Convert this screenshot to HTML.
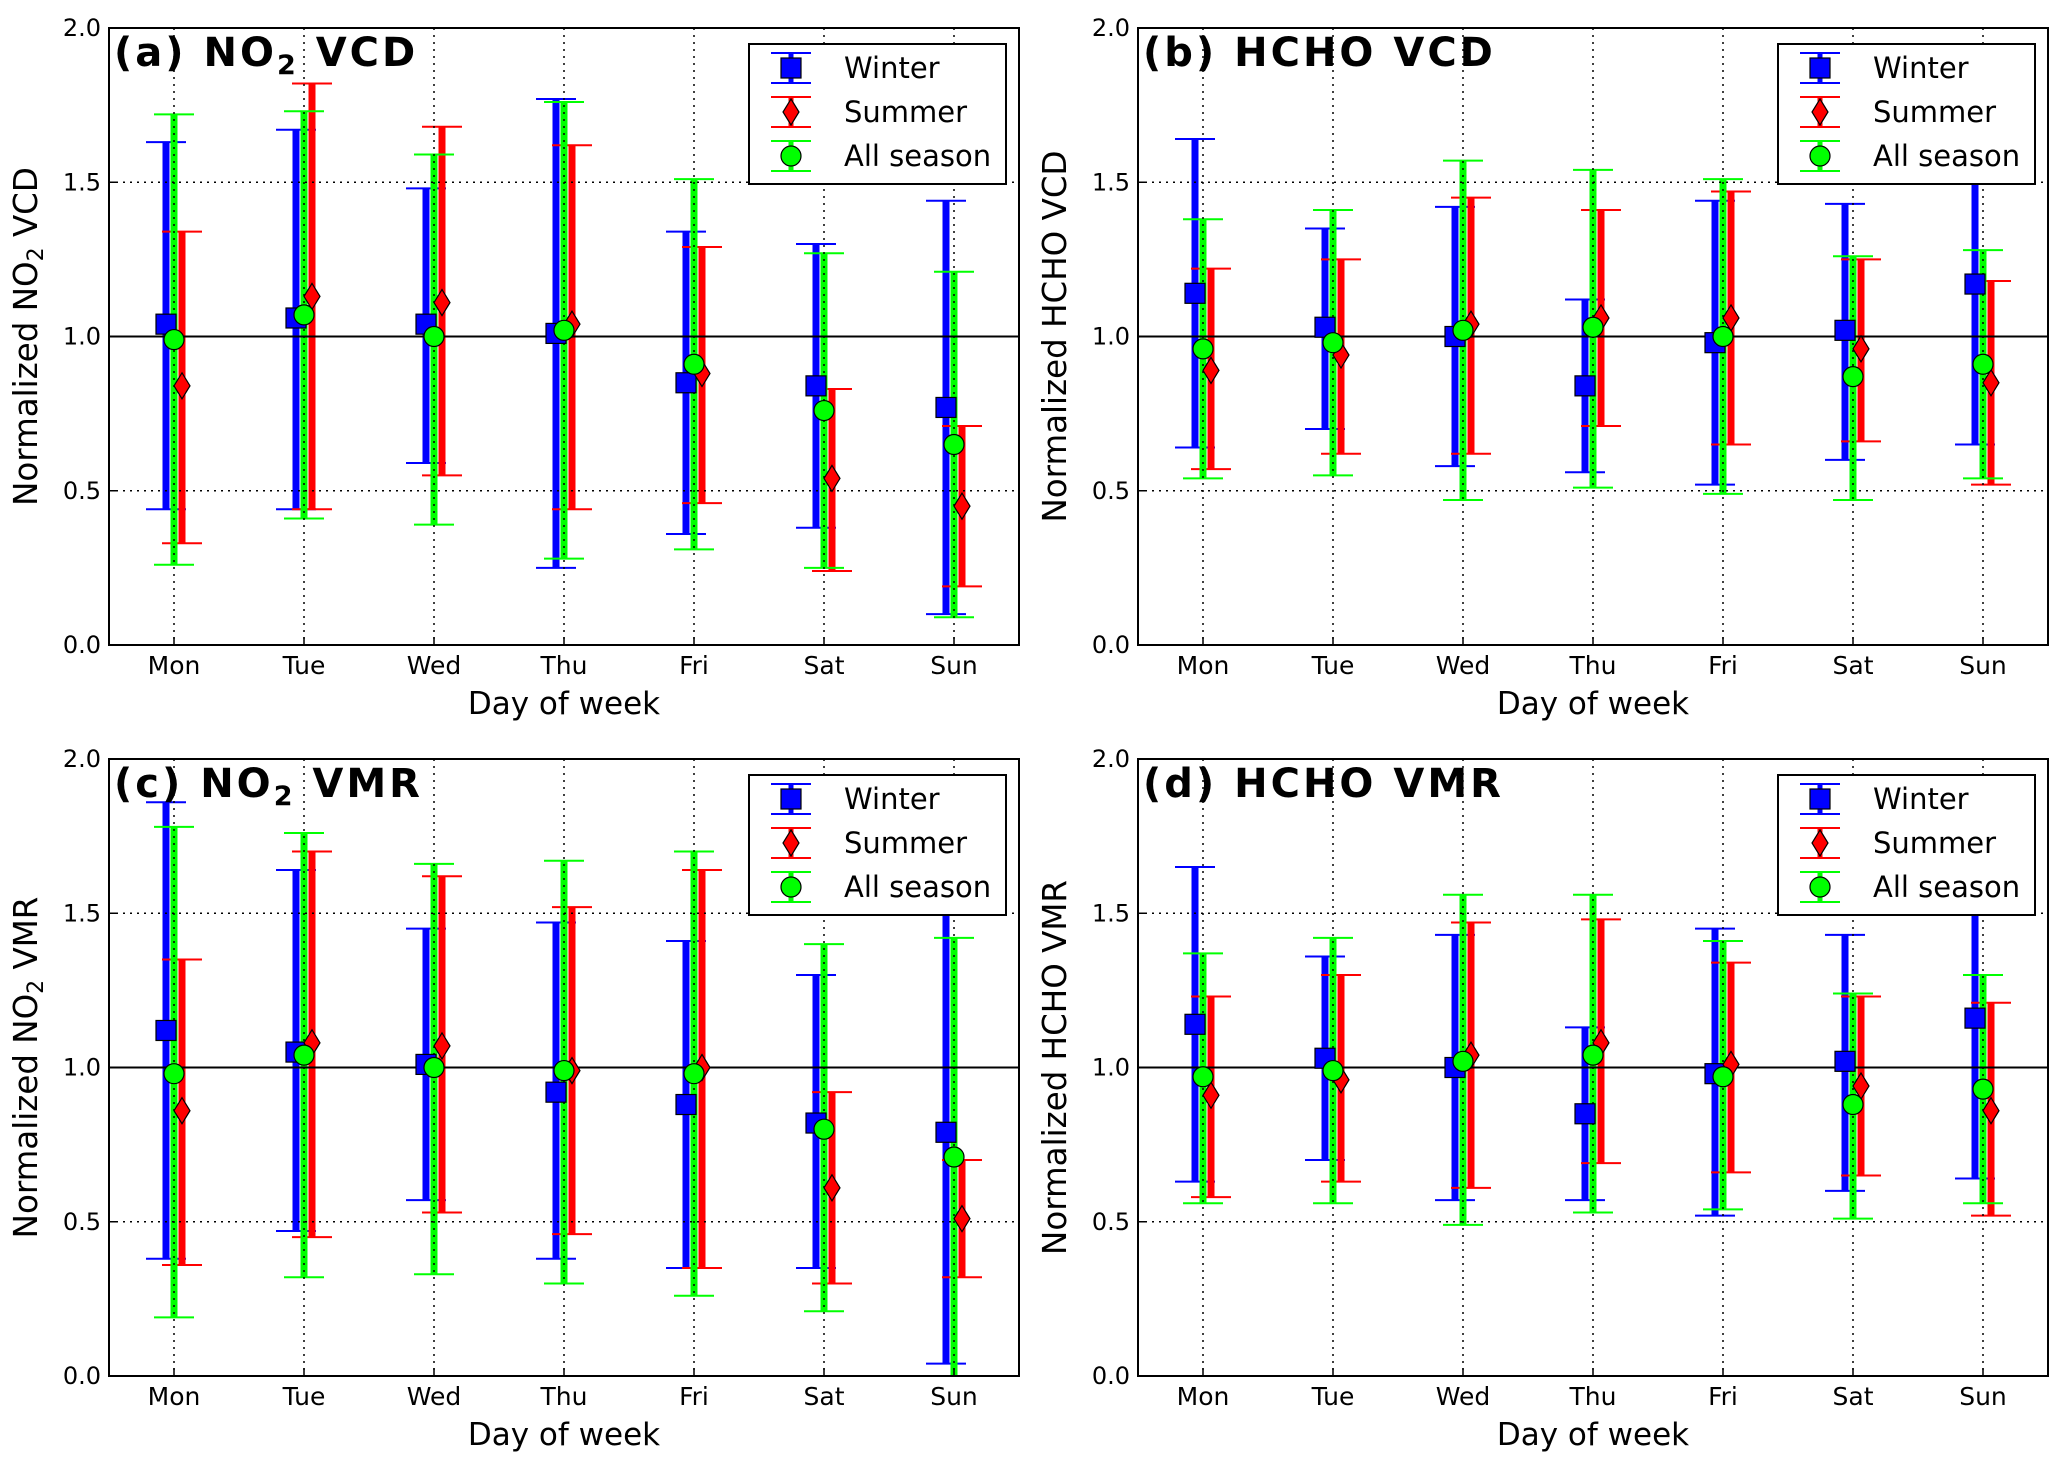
<!DOCTYPE html>
<html><head><meta charset="utf-8"><style>
html,body{margin:0;padding:0;background:#fff;}
svg{display:block;font-family:"DejaVu Sans","Liberation Sans",sans-serif;}
</style></head><body>
<svg id="fig" width="2067" height="1469" viewBox="0 0 2067 1469" xmlns="http://www.w3.org/2000/svg"></svg>
<script>
const days = ["Mon","Tue","Wed","Thu","Fri","Sat","Sun"];
const yTicks = [0.0,0.5,1.0,1.5,2.0];
// panel a: NO2 VCD
const aWinterMean=[1.04,1.06,1.04,1.01,0.85,0.84,0.77];
const aWinterLo=[0.44,0.44,0.59,0.25,0.36,0.38,0.10];
const aWinterHi=[1.63,1.67,1.48,1.77,1.34,1.30,1.44];
const aSummerMean=[0.84,1.13,1.11,1.04,0.88,0.54,0.45];
const aSummerLo=[0.33,0.44,0.55,0.44,0.46,0.24,0.19];
const aSummerHi=[1.34,1.82,1.68,1.62,1.29,0.83,0.71];
const aAllMean=[0.99,1.07,1.00,1.02,0.91,0.76,0.65];
const aAllLo=[0.26,0.41,0.39,0.28,0.31,0.25,0.09];
const aAllHi=[1.72,1.73,1.59,1.76,1.51,1.27,1.21];
// panel b: HCHO VCD
const bWinterMean=[1.14,1.03,1.00,0.84,0.98,1.02,1.17];
const bWinterLo=[0.64,0.70,0.58,0.56,0.52,0.60,0.65];
const bWinterHi=[1.64,1.35,1.42,1.12,1.44,1.43,1.70];
const bSummerMean=[0.89,0.94,1.04,1.06,1.06,0.96,0.85];
const bSummerLo=[0.57,0.62,0.62,0.71,0.65,0.66,0.52];
const bSummerHi=[1.22,1.25,1.45,1.41,1.47,1.25,1.18];
const bAllMean=[0.96,0.98,1.02,1.03,1.00,0.87,0.91];
const bAllLo=[0.54,0.55,0.47,0.51,0.49,0.47,0.54];
const bAllHi=[1.38,1.41,1.57,1.54,1.51,1.26,1.28];
// panel c: NO2 VMR
const cWinterMean=[1.12,1.05,1.01,0.92,0.88,0.82,0.79];
const cWinterLo=[0.38,0.47,0.57,0.38,0.35,0.35,0.04];
const cWinterHi=[1.86,1.64,1.45,1.47,1.41,1.30,1.54];
const cSummerMean=[0.86,1.08,1.07,0.99,1.00,0.61,0.51];
const cSummerLo=[0.36,0.45,0.53,0.46,0.35,0.30,0.32];
const cSummerHi=[1.35,1.70,1.62,1.52,1.64,0.92,0.70];
const cAllMean=[0.98,1.04,1.00,0.99,0.98,0.80,0.71];
const cAllLo=[0.19,0.32,0.33,0.30,0.26,0.21,0.00];
const cAllHi=[1.78,1.76,1.66,1.67,1.70,1.40,1.42];
// panel d: HCHO VMR
const dWinterMean=[1.14,1.03,1.00,0.85,0.98,1.02,1.16];
const dWinterLo=[0.63,0.70,0.57,0.57,0.52,0.60,0.64];
const dWinterHi=[1.65,1.36,1.43,1.13,1.45,1.43,1.70];
const dSummerMean=[0.91,0.96,1.04,1.08,1.01,0.94,0.86];
const dSummerLo=[0.58,0.63,0.61,0.69,0.66,0.65,0.52];
const dSummerHi=[1.23,1.30,1.47,1.48,1.34,1.23,1.21];
const dAllMean=[0.97,0.99,1.02,1.04,0.97,0.88,0.93];
const dAllLo=[0.56,0.56,0.49,0.53,0.54,0.51,0.56];
const dAllHi=[1.37,1.42,1.56,1.56,1.41,1.24,1.30];

const NS="http://www.w3.org/2000/svg";
const svg=document.getElementById('fig');
function mk(tag,attrs,parent){const e=document.createElementNS(NS,tag);for(const k in attrs)e.setAttribute(k,attrs[k]);(parent||svg).appendChild(e);return e;}

const panels=[
 {id:'a',x:109,y:28,title:'(a) NO',sub:'2',tail:' VCD',yl:'Normalized NO',ysub:'2',ytail:' VCD',
  W:[aWinterMean,aWinterLo,aWinterHi],S:[aSummerMean,aSummerLo,aSummerHi],A:[aAllMean,aAllLo,aAllHi]},
 {id:'b',x:1138,y:28,title:'(b) HCHO VCD',sub:'',tail:'',yl:'Normalized HCHO VCD',ysub:'',ytail:'',
  W:[bWinterMean,bWinterLo,bWinterHi],S:[bSummerMean,bSummerLo,bSummerHi],A:[bAllMean,bAllLo,bAllHi]},
 {id:'c',x:109,y:759,title:'(c) NO',sub:'2',tail:' VMR',yl:'Normalized NO',ysub:'2',ytail:' VMR',
  W:[cWinterMean,cWinterLo,cWinterHi],S:[cSummerMean,cSummerLo,cSummerHi],A:[cAllMean,cAllLo,cAllHi]},
 {id:'d',x:1138,y:759,title:'(d) HCHO VMR',sub:'',tail:'',yl:'Normalized HCHO VMR',ysub:'',ytail:'',
  W:[dWinterMean,dWinterLo,dWinterHi],S:[dSummerMean,dSummerLo,dSummerHi],A:[dAllMean,dAllLo,dAllHi]}
];
const PW=910, PH=617;
const BLUE='#0000ff', RED='#ff0000', GREEN='#00ff00';

function square(g,cx,cy){mk('rect',{x:cx-10,y:cy-10,width:20,height:20,fill:BLUE,stroke:'#000','stroke-width':1.2},g);}
function diamond(g,cx,cy){mk('polygon',{points:`${cx},${cy-13} ${cx+8},${cy} ${cx},${cy+13} ${cx-8},${cy}`,fill:RED,stroke:'#000','stroke-width':1.2},g);}
function circle(g,cx,cy){mk('circle',{cx:cx,cy:cy,r:10,fill:GREEN,stroke:'#000','stroke-width':1.2},g);}

panels.forEach(p=>{
  const g=mk('g',{});
  
  
  const xs=i=>p.x+(i+0.5)*PW/7;
  const ys=v=>p.y+PH-v/2*PH;
  const series=[['winter',p.W,-8,BLUE,square],['summer',p.S,8,RED,diamond],['all-season',p.A,0,GREEN,circle]];
  series.forEach(([nm,d,off,col])=>{
    d[0].forEach((m,i)=>{
      const cx=xs(i)+off;
      const bar=mk('line',{x1:cx,x2:cx,y1:ys(d[1][i]),y2:ys(d[2][i]),stroke:col,'stroke-width':7},g);
      
      
      [d[1][i],d[2][i]].forEach(v=>{mk('line',{x1:cx-20,x2:cx+20,y1:ys(v),y2:ys(v),stroke:col,'stroke-width':2},g);});
    });
  });
  days.forEach((d,i)=>{mk('line',{x1:xs(i),x2:xs(i),y1:p.y,y2:p.y+PH,stroke:'#000','stroke-width':1.5,'stroke-dasharray':'2,5'},g);});
  [0.5,1.5].forEach(v=>{mk('line',{x1:p.x,x2:p.x+PW,y1:ys(v),y2:ys(v),stroke:'#000','stroke-width':1.5,'stroke-dasharray':'2,5'},g);});
  const ref=mk('line',{x1:p.x,x2:p.x+PW,y1:ys(1),y2:ys(1),stroke:'#000','stroke-width':2},g);
  
  
  series.forEach(([nm,d,off,col,fn])=>{d[0].forEach((m,i)=>fn(g,xs(i)+off,ys(m)));});
  const fr=mk('rect',{x:p.x,y:p.y,width:PW,height:PH,fill:'none',stroke:'#000','stroke-width':2},g);
  
  
  yTicks.forEach(v=>{
    const t=mk('text',{x:p.x-8,y:ys(v)+8,'text-anchor':'end','font-size':24},g);t.textContent=v.toFixed(1);
    
    
    mk('line',{x1:p.x,x2:p.x+8,y1:ys(v),y2:ys(v),stroke:'#000','stroke-width':1.5},g);
  });
  days.forEach((d,i)=>{
    const t=mk('text',{x:xs(i),y:p.y+PH+29,'text-anchor':'middle','font-size':25},g);t.textContent=d;
    
    
    mk('line',{x1:xs(i),x2:xs(i),y1:p.y+PH,y2:p.y+PH-8,stroke:'#000','stroke-width':1.5},g);
  });
  const xl=mk('text',{x:p.x+PW/2,y:p.y+PH+69,'text-anchor':'middle','font-size':31},g);xl.textContent='Day of week';
  
  
  const yl=mk('text',{x:0,y:0,'text-anchor':'middle','font-size':32.5,transform:`translate(${p.x-72},${p.y+PH/2}) rotate(-90)`},g);
  
  
  yl.appendChild(document.createTextNode(p.yl));
  if(p.ysub){const s=mk('tspan',{'font-size':22,dy:6},yl);s.textContent=p.ysub;const t2=mk('tspan',{dy:-6},yl);t2.textContent=p.ytail;}
  const ti=mk('text',{x:p.x+5,y:p.y+38,'font-size':40,'font-weight':'bold','letter-spacing':'3'},g);
  
  
  ti.appendChild(document.createTextNode(p.title));
  if(p.sub){const s=mk('tspan',{'font-size':27,dy:8},ti);s.textContent=p.sub;const t2=mk('tspan',{dy:-8},ti);t2.textContent=p.tail;}
  const lg=mk('g',{},g);
  
  
  const lx=p.x+640, ly=p.y+16;
  mk('rect',{x:lx,y:ly,width:257,height:140,fill:'#fff',stroke:'#000','stroke-width':2},lg);
  const items=[['Winter',BLUE,square],['Summer',RED,diamond],['All season',GREEN,circle]];
  items.forEach(([lab,col,fn],k)=>{
    const e=mk('g',{},lg);
    
    
    const cy=ly+24+k*44, cx=lx+42;
    mk('line',{x1:cx,x2:cx,y1:cy-15,y2:cy+15,stroke:col,'stroke-width':5},e);
    mk('line',{x1:cx-20,x2:cx+20,y1:cy-15,y2:cy-15,stroke:col,'stroke-width':2},e);
    mk('line',{x1:cx-20,x2:cx+20,y1:cy+15,y2:cy+15,stroke:col,'stroke-width':2},e);
    fn(e,cx,cy);
    const t=mk('text',{x:lx+95,y:cy+10,'font-size':29},e);t.textContent=lab;
  });
});
</script>
</body></html>
